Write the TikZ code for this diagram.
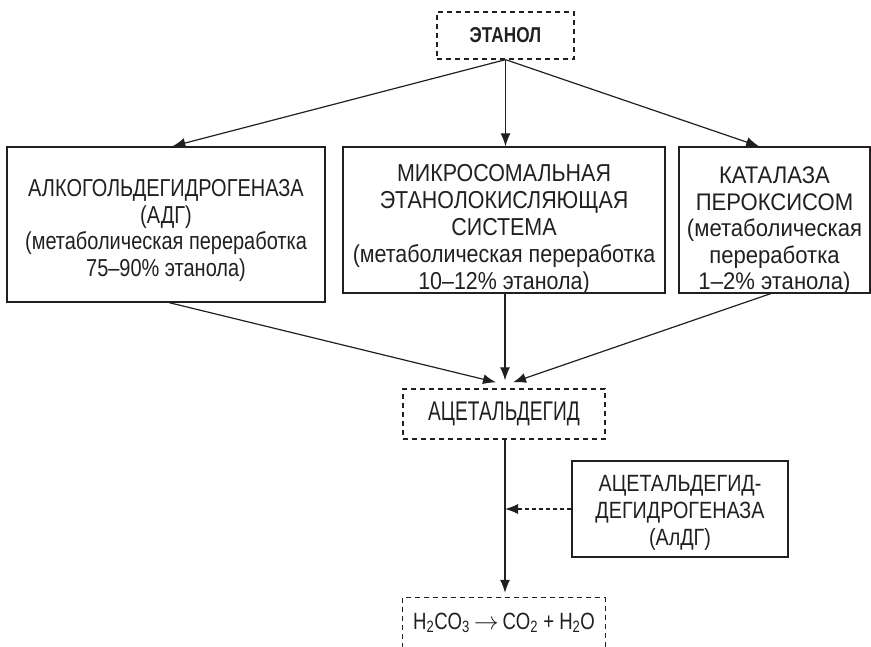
\documentclass[tikz,border=0pt]{standalone}
\usepackage{fontspec}
\setmainfont{Liberation Sans}[FakeStretch=0.8]
\newfontfamily\fadg{Liberation Sans}[FakeStretch=0.815]
\newfontfamily\fmeos{Liberation Sans}[FakeStretch=0.875]
\newfontfamily\fcat{Liberation Sans}[FakeStretch=0.92]
\newfontfamily\facet{Liberation Sans}[FakeStretch=0.71]
\newfontfamily\faldg{Liberation Sans}[FakeStretch=0.84]
\newfontfamily\fprod{Liberation Sans}[FakeStretch=0.79]
\usetikzlibrary{arrows.meta,calc}
\definecolor{ink}{HTML}{231F20}
\begin{document}
\begin{tikzpicture}[x=1pt,y=-1pt,
  box/.style={draw=ink, line width=1.3pt, rectangle, inner sep=0pt},
  dbox/.style={box, dash pattern=on 5pt off 4pt},
  txt/.style={align=center, inner sep=0pt, text=ink},
  arr/.style={draw=ink, line width=1.2pt, -{Latex[length=13pt,width=10pt]}},
  darr/.style={arr, dash pattern=on 4pt off 3pt},
]
\useasboundingbox (0,0) rectangle (871,647);

\node[dbox, txt, minimum width=137pt, minimum height=47pt, font=\fontsize{21.5}{26}\selectfont\bfseries] (etanol) at (505.5,35.5) {ЭТАНОЛ};

\node[box, minimum width=318pt, minimum height=155pt] (adg) at (166,224.5) {};
\node[txt, font=\fadg\fontsize{24.5}{26.5}\selectfont] (adgt) at (166,230.5)
  {АЛКОГОЛЬДЕГИДРОГЕНАЗА\\(АДГ)\\(метаболическая переработка\\75–90\% этанола)};

\node[box, minimum width=322pt, minimum height=146pt] (meos) at (504,220) {};
\node[txt, font=\fmeos\fontsize{24.5}{27}\selectfont] (meost) at (504,229)
  {МИКРОСОМАЛЬНАЯ\\ЭТАНОЛОКИСЛЯЮЩАЯ\\СИСТЕМА\\(метаболическая переработка\\10–12\% этанола)};

\node[box, minimum width=191pt, minimum height=146pt] (cat) at (774.5,220) {};
\node[txt, font=\fcat\fontsize{24}{26.5}\selectfont] (catt) at (774.5,231)
  {КАТАЛАЗА\\ПЕРОКСИСОМ\\(метаболическая\\переработка\\1–2\% этанола)};

\node[dbox, txt, minimum width=202pt, minimum height=50pt, font=\facet\fontsize{27}{30}\selectfont] (acet) at (504,414) {АЦЕТАЛЬДЕГИД};

\node[box, minimum width=216pt, minimum height=96pt] (aldg) at (680,509) {};
\node[txt, font=\faldg\fontsize{23.5}{27}\selectfont] (aldgt) at (680,513)
  {АЦЕТАЛЬДЕГИД-\\ДЕГИДРОГЕНАЗА\\(АлДГ)};

\node[txt, minimum width=202pt, minimum height=50pt, font=\fprod\fontsize{23.5}{26}\selectfont] (h2co) at (504,623)
  {H\textsubscript{2}CO\textsubscript{3}\,$\rightarrow$\,CO\textsubscript{2} + H\textsubscript{2}O};
\draw[ink, line width=1.3pt, dash pattern=on 5pt off 4pt]
  (h2co.south west) -- (h2co.north west) -- (h2co.north east) -- (h2co.south east);

% top arrows
\coordinate (adgin) at ($(adg.north west)!0.52!(adg.north east)$);
\coordinate (catin) at ($(cat.north west)!0.42!(cat.north east)$);
\draw[arr] (etanol.south) -- (adgin);
\draw[arr] (etanol.south) -- (etanol.south |- meos.north);
\draw[arr] (etanol.south) -- (catin);

% into acetaldehyde
\coordinate (adgout) at ($(adg.south west)!0.51!(adg.south east)$);
\coordinate (catout) at ($(cat.south west)!0.48!(cat.south east)$);
\coordinate (accl) at ($(acet.north)+(-8,-6)$);
\coordinate (accm) at ($(acet.north)+(1,-8)$);
\coordinate (accr) at ($(acet.north)+(9,-6)$);
\draw[arr] (adgout) -- (accl);
\draw[arr] (meos.south -| accm) -- (accm);
\draw[arr] (catout) -- (accr);

% down to products
\draw[arr, shorten >=5pt] (acet.south -| accm) -- (h2co.north -| accm);
\draw[darr] (aldg.west) -- (aldg.west -| accm);
\end{tikzpicture}
\end{document}
